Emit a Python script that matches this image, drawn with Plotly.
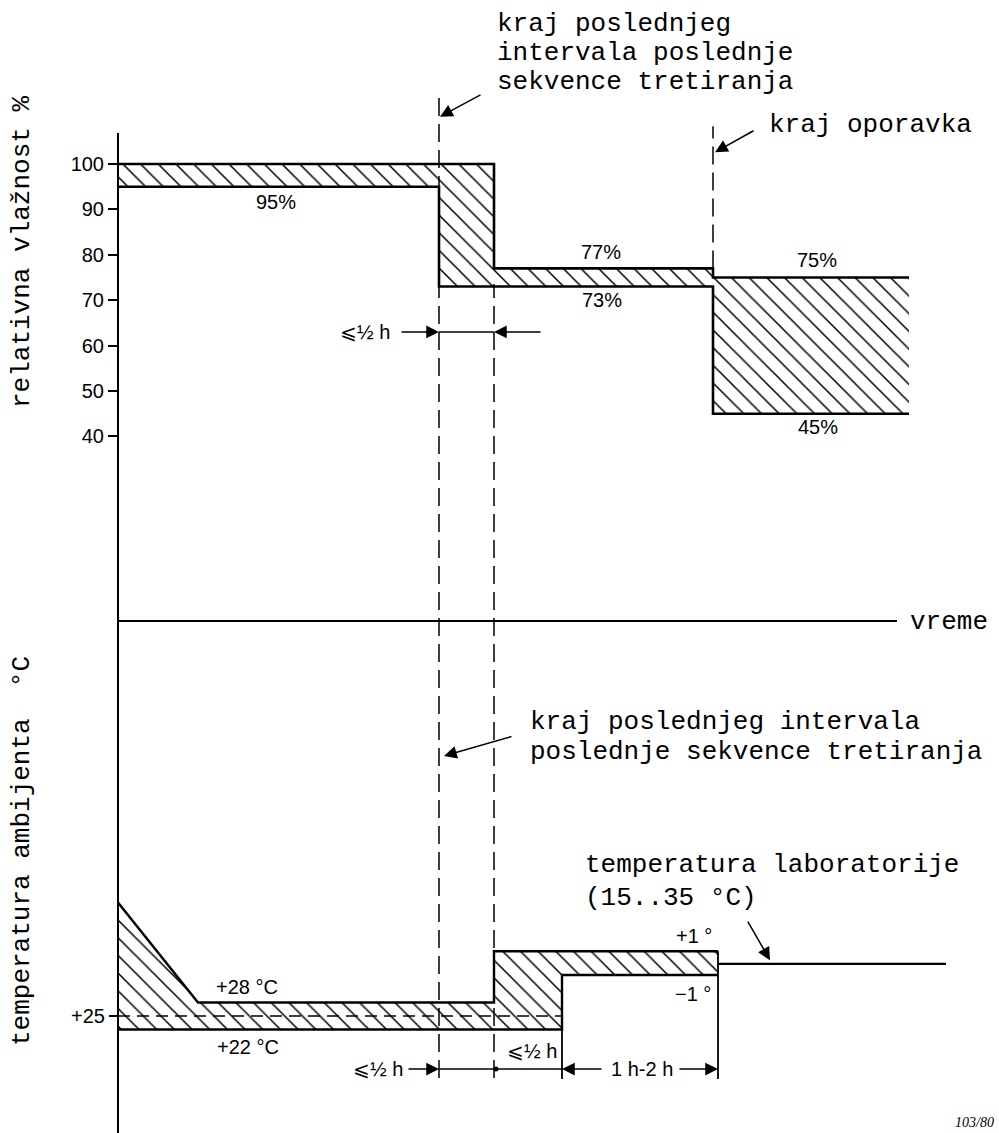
import plotly.graph_objects as go

# ---------------- data (schematic time units along the "vreme" axis) ----------------
# Relative humidity tolerance envelope (%)
RH_UPPER_T = [0, 376, 376, 595, 595, 791]
RH_UPPER = [100, 100, 77, 77, 75, 75]
RH_LOWER_T = [0, 321, 321, 595, 595, 791]
RH_LOWER = [95, 95, 73, 73, 45, 45]
RH_TICKS = [40, 50, 60, 70, 80, 90, 100]

# Ambient temperature tolerance envelope (schematic degC)
TEMP_UPPER_T = [0, 80, 376, 376, 600]
TEMP_UPPER = [50.2, 28, 28, 39.4, 39.4]
TEMP_LOWER_T = [0, 444, 444, 600]
TEMP_LOWER = [22, 22, 34.1, 34.1]
TEMP_NOMINAL_T = [0, 444]
TEMP_NOMINAL = [25, 25]
LAB_T = [600, 828]
LAB = [36.6, 36.6]
TEMP_TICKS = [25]
TEMP_TICK_LABELS = ["+25"]

# key instants
T_END_TREAT = 321      # kraj poslednjeg intervala poslednje sekvence tretiranja
T_RH_SETTLE = 376      # end of <= 1/2 h
T_TEMP_STEP = 444      # end of second <= 1/2 h
T_RECOVERY_RH = 595    # kraj oporavka (humidity chart)
T_RECOVERY_T = 600     # kraj oporavka (temperature chart)
T_TIME_AXIS_END = 779

# ---------------- styling ----------------
W, H = 999, 1133
ML = 118
MONO = "Liberation Mono, Courier New, monospace"
SANS = "Liberation Sans, Arial, sans-serif"
BLACK = "black"
HATCH = dict(shape="\\", size=12.5, solidity=0.12, fgcolor=BLACK,
             bgcolor="rgba(0,0,0,0)", fillmode="replace")
LEQ = "\u2a7d\u00bd h"


def ypap(px):
    return 1 - px / H


def xpap(px):
    return (px - ML) / (W - ML)


fig = go.Figure()

# hatched humidity tolerance band
fig.add_trace(go.Scatter(
    x=RH_UPPER_T + RH_LOWER_T[::-1], y=RH_UPPER + RH_LOWER[::-1],
    fill="toself", fillcolor="rgba(0,0,0,0)", fillpattern=HATCH,
    mode="lines", line=dict(width=0), hoverinfo="skip", showlegend=False,
    xaxis="x", yaxis="y"))
fig.add_trace(go.Scatter(x=RH_UPPER_T, y=RH_UPPER, mode="lines",
                         line=dict(color=BLACK, width=2.6), showlegend=False,
                         xaxis="x", yaxis="y"))
fig.add_trace(go.Scatter(x=RH_LOWER_T, y=RH_LOWER, mode="lines",
                         line=dict(color=BLACK, width=2.6), showlegend=False,
                         xaxis="x", yaxis="y"))

# hatched temperature tolerance band
fig.add_trace(go.Scatter(
    x=TEMP_UPPER_T + TEMP_LOWER_T[::-1], y=TEMP_UPPER + TEMP_LOWER[::-1],
    fill="toself", fillcolor="rgba(0,0,0,0)", fillpattern=HATCH,
    mode="lines", line=dict(width=0), hoverinfo="skip", showlegend=False,
    xaxis="x", yaxis="y2"))
fig.add_trace(go.Scatter(x=TEMP_UPPER_T, y=TEMP_UPPER, mode="lines",
                         line=dict(color=BLACK, width=2.4), showlegend=False,
                         xaxis="x", yaxis="y2"))
fig.add_trace(go.Scatter(x=TEMP_LOWER_T, y=TEMP_LOWER, mode="lines",
                         line=dict(color=BLACK, width=2.4), showlegend=False,
                         xaxis="x", yaxis="y2"))
fig.add_trace(go.Scatter(x=TEMP_NOMINAL_T, y=TEMP_NOMINAL, mode="lines",
                         line=dict(color=BLACK, width=1.6, dash="12px,7px"),
                         showlegend=False, xaxis="x", yaxis="y2"))
fig.add_trace(go.Scatter(x=LAB_T, y=LAB, mode="lines",
                         line=dict(color=BLACK, width=2.2), showlegend=False,
                         xaxis="x", yaxis="y2"))

# dimension-line levels (axis units)
DIM_RH = 63.0
DIM_T = 13.2
EXT_T = 11.0

# dot on lower dimension line
fig.add_trace(go.Scatter(x=[T_RH_SETTLE + 2], y=[DIM_T], mode="markers",
                         marker=dict(color=BLACK, size=5), showlegend=False,
                         xaxis="x", yaxis="y2"))

shapes = []
# vertical axis line
shapes.append(dict(type="line", xref="paper", yref="paper", x0=0, x1=0,
                   y0=ypap(1133), y1=ypap(133), line=dict(color=BLACK, width=2)))
# time axis "vreme"
shapes.append(dict(type="line", xref="x", yref="paper", x0=0, x1=T_TIME_AXIS_END,
                   y0=ypap(621), y1=ypap(621), line=dict(color=BLACK, width=2)))
# dashed markers of instants
DASH = dict(color=BLACK, width=1.5, dash="18px,8px")
shapes.append(dict(type="line", xref="x", yref="paper", x0=T_END_TREAT, x1=T_END_TREAT,
                   y0=ypap(1078), y1=ypap(97), line=DASH))
shapes.append(dict(type="line", xref="x", yref="paper", x0=T_RH_SETTLE, x1=T_RH_SETTLE,
                   y0=ypap(1078), y1=ypap(284), line=DASH))
shapes.append(dict(type="line", xref="x", yref="y", x0=T_RECOVERY_RH, x1=T_RECOVERY_RH,
                   y0=77, y1=108.3, line=DASH))
# extension lines in temperature chart
EXT = dict(color=BLACK, width=1.8)
shapes.append(dict(type="line", xref="x", yref="y2", x0=T_TEMP_STEP, x1=T_TEMP_STEP,
                   y0=EXT_T, y1=TEMP_LOWER[0], line=EXT))
shapes.append(dict(type="line", xref="x", yref="y2", x0=T_RECOVERY_T, x1=T_RECOVERY_T,
                   y0=EXT_T, y1=TEMP_UPPER[-1], line=EXT))
# dimension lines
shapes.append(dict(type="line", xref="x", yref="y", x0=T_END_TREAT, x1=T_RH_SETTLE,
                   y0=DIM_RH, y1=DIM_RH, line=dict(color=BLACK, width=1.5)))
shapes.append(dict(type="line", xref="x", yref="y2", x0=T_END_TREAT, x1=T_TEMP_STEP,
                   y0=DIM_T, y1=DIM_T, line=dict(color=BLACK, width=1.5)))

ann = []


def arrow(tip_x, tip_y, tail_x, tail_y, yref):
    ann.append(dict(x=tip_x, y=tip_y, ax=tail_x, ay=tail_y, xref="x", yref=yref,
                    axref="x", ayref=yref, text="", showarrow=True, arrowhead=2,
                    arrowsize=1.7, arrowwidth=1.5, arrowcolor=BLACK, standoff=0))


def text(x, y, s, yref, font, size, xanchor="center", xref="x", angle=0, style=None):
    f = dict(family=font, size=size, color=BLACK)
    if style:
        f["style"] = style
    ann.append(dict(x=x, y=y, xref=xref, yref=yref, text=s, showarrow=False,
                    xanchor=xanchor, yanchor="middle", font=f, textangle=angle))


# upper annotations
text(377, 130.8, "kraj poslednjeg", "y", MONO, 26, "left")
text(377, 124.4, "intervala poslednje", "y", MONO, 26, "left")
text(377, 118.1, "sekvence tretiranja", "y", MONO, 26, "left")
arrow(T_END_TREAT + 1, 110.4, 364, 115.4, "y")
text(649, 108.6, "kraj oporavka", "y", MONO, 26, "left")
arrow(T_RECOVERY_RH + 2, 102.6, 637, 107.5, "y")

# humidity value labels
text(158, 91.6, "95%", "y", SANS, 20)
text(483, 80.6, "77%", "y", SANS, 20)
text(484, 70.0, "73%", "y", SANS, 20)
text(699, 78.9, "75%", "y", SANS, 20)
text(700, 42.1, "45%", "y", SANS, 20)

# upper dimension
arrow(T_END_TREAT, DIM_RH, 282, DIM_RH, "y")
arrow(T_RH_SETTLE, DIM_RH, 424, DIM_RH, "y")
text(247, DIM_RH, LEQ, "y", SANS, 20)

# time axis label
text(790, ypap(622), "vreme", "paper", MONO, 26, "left")

# middle annotation
text(410, 90.3, "kraj poslednjeg intervala", "y2", MONO, 26, "left")
text(410, 83.7, "poslednje sekvence tretiranja", "y2", MONO, 26, "left")
arrow(T_END_TREAT + 5, 82.8, 395, 87.2, "y2")

# lab temperature
text(465, 58.6, "temperatura laboratorije", "y2", MONO, 26, "left")
text(465, 51.2, "(15..35 \u00b0C)", "y2", MONO, 26, "left")
arrow(652, 37.4, 629, 46.3, "y2")

# temperature value labels
text(576, 42.8, "+1 \u00b0", "y2", SANS, 20)
text(575, 29.9, "\u22121 \u00b0", "y2", SANS, 20)
text(129, 31.4, "+28 \u00b0C", "y2", SANS, 20)
text(130, 18.1, "+22 \u00b0C", "y2", SANS, 20)

# lower dimension
arrow(T_END_TREAT, DIM_T, 289, DIM_T, "y2")
arrow(T_TEMP_STEP, DIM_T, 485, DIM_T, "y2")
arrow(T_RECOVERY_T, DIM_T, 560, DIM_T, "y2")
text(287, DIM_T, LEQ, "y2", SANS, 20, "right")
text(414, 17.2, LEQ, "y2", SANS, 20)
text(524, DIM_T, "1 h-2 h", "y2", SANS, 20)

# figure number
text(xpap(953), ypap(1122), "103/80", "paper", "Liberation Serif, Times New Roman, serif",
     14, "left", xref="paper", style="italic")

# axis titles
text(xpap(22), ypap(252), "relativna vla\u017enost %", "paper", MONO, 26,
     xref="paper", angle=-90)
text(xpap(22), ypap(851), "temperatura ambijenta\u00a0\u00a0\u00b0C", "paper", MONO, 26,
     xref="paper", angle=-90)

fig.update_layout(
    width=W, height=H,
    margin=dict(l=ML, r=0, t=0, b=0),
    paper_bgcolor="white", plot_bgcolor="white",
    showlegend=False,
    shapes=shapes, annotations=ann,
    xaxis=dict(range=[0, W - ML], visible=False, fixedrange=True),
    yaxis=dict(domain=[0.5, 1], range=[11.34, 136.12], tickvals=RH_TICKS,
               ticks="outside", ticklen=9, tickwidth=2, tickcolor=BLACK,
               showgrid=False, zeroline=False, showline=False,
               tickfont=dict(family=SANS, size=20, color=BLACK)),
    yaxis2=dict(domain=[0, 0.5], range=[-1, 124.9], tickvals=TEMP_TICKS,
                ticktext=TEMP_TICK_LABELS, ticks="outside", ticklen=8, tickwidth=2,
                tickcolor=BLACK, showgrid=False, zeroline=False, showline=False,
                tickfont=dict(family=SANS, size=20, color=BLACK)),
)

fig.write_html("out.html", config={"displayModeBar": False},
               post_script="document.body.style.margin='0';"
               "document.body.style.overflow='hidden';")
